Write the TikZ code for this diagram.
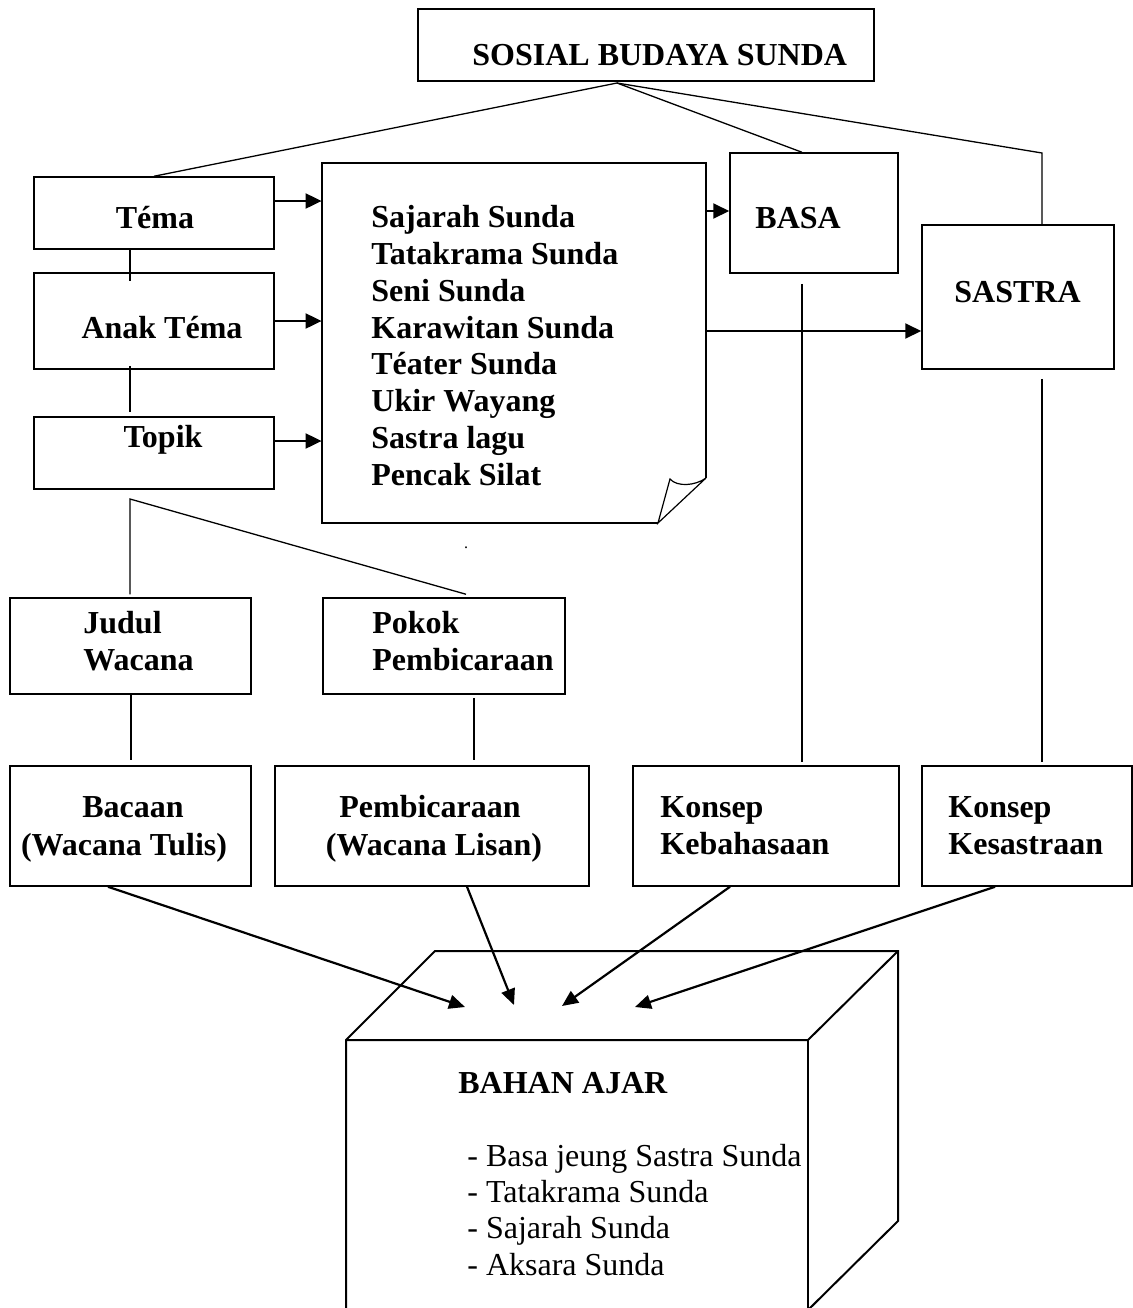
\documentclass[tikz,border=0pt]{standalone}
\usepackage{fontspec}
\setmainfont{Liberation Serif}
\usetikzlibrary{arrows.meta,fit}

\begin{document}
\begin{tikzpicture}[x=0.5pt,y=-0.5pt]
\tikzstyle{every node}=[inner sep=0pt, font=\fontsize{16}{18}\selectfont]
\tikzstyle{box}=[draw, line width=0.75pt]
\tikzstyle{lbl}=[font=\fontsize{16}{18}\selectfont\bfseries, anchor=base west]
\tikzstyle{lblc}=[font=\fontsize{16}{18}\selectfont\bfseries, anchor=base]
\tikzstyle{item}=[anchor=base west]
\tikzstyle{link}=[line width=0.65pt]
\tikzstyle{arr}=[line width=1pt, -{Triangle[length=8pt,width=7.5pt]}]
\tikzstyle{arrb}=[line width=1.1pt, -{Triangle[length=8pt,width=7pt]}]
\useasboundingbox (0,0) rectangle (1133,1308);
\node[box, fit={(418,9) (874,81)}] (sosial) {};
\node[lbl] (sosialtext) at (472,65) {SOSIAL BUDAYA SUNDA};
\node[box, fit={(34,177) (274,249)}] (tema) {};
\node[lblc] (tematext) at (155,228) {Téma};
\node[box, fit={(34,273) (274,369)}] (anak) {};
\node[lblc] (anaktext) at (162,338) {Anak Téma};
\node[box, fit={(34,417) (274,489)}] (topik) {};
\node[lblc] (topiktext) at (163,447) {Topik};
\node[box, fit={(730,153) (898,273)}] (basa) {};
\node[lbl] (basatext) at (755,228) {BASA};
\node[box, fit={(922,225) (1114,369)}] (sastra) {};
\node[lbl] (sastratext) at (954,302) {SASTRA};
\node[fit={(322,163) (706,523)}] (doc) {};
\draw[box] (706,478) -- (706,163) -- (322,163) -- (322,523) -- (658,523);
\draw[line width=0.6pt] (706,478) -- (658,523) -- (670,479) .. controls (677,487) and (695,486) .. (706,478);
\node[lbl] (doc1) at (371,227) {Sajarah Sunda};
\node[lbl] (doc2) at (371,264) {Tatakrama Sunda};
\node[lbl] (doc3) at (371,301) {Seni Sunda};
\node[lbl] (doc4) at (371,338) {Karawitan Sunda};
\node[lbl] (doc5) at (371,374) {Téater Sunda};
\node[lbl] (doc6) at (371,411) {Ukir Wayang};
\node[lbl] (doc7) at (371,448) {Sastra lagu};
\node[lbl] (doc8) at (371,485) {Pencak Silat};
\node (dot) at (466,548) {\fontsize{8}{8}\selectfont .};
\node[box, fit={(10,598) (251,694)}] (judul) {};
\node[lbl] (judul1) at (83,633) {Judul};
\node[lbl] (judul2) at (83,670) {Wacana};
\node[box, fit={(323,598) (565,694)}] (pokok) {};
\node[lbl] (pokok1) at (372,633) {Pokok};
\node[lbl] (pokok2) at (372,670) {Pembicaraan};
\node[box, fit={(10,766) (251,886)}] (bacaan) {};
\node[lblc] (bacaan1) at (133,817) {Bacaan};
\node[lblc] (bacaan2) at (124,855) {(Wacana Tulis)};
\node[box, fit={(275,766) (589,886)}] (pembic) {};
\node[lblc] (pembic1) at (430,817) {Pembicaraan};
\node[lblc] (pembic2) at (434,855) {(Wacana Lisan)};
\node[box, fit={(633,766) (899,886)}] (kbh) {};
\node[lbl] (kbh1) at (660,817) {Konsep};
\node[lbl] (kbh2) at (660,854) {Kebahasaan};
\node[box, fit={(922,766) (1132,886)}] (kss) {};
\node[lbl] (kss1) at (948,817) {Konsep};
\node[lbl] (kss2) at (948,854) {Kesastraan};
\coordinate (hub) at (617,83);
\coordinate (bend) at (1042,153);
\coordinate (fork) at (130,499);
\draw[link] (tema.north) -- (hub) -- (basa.north -| 802,0);
\draw[link] (hub) -- (bend) -- (sastra.north -| bend);
\draw[link] (tema.south -| 130,0) -- ([yshift=-4.5pt]anak.north -| 130,0);
\draw[link] ([yshift=2pt]anak.south -| 130,0) -- ([yshift=2pt]topik.north -| 130,0);
\draw[link] ([yshift=1.5pt]judul.north -| fork) -- (fork) -- ([yshift=1.5pt]pokok.north -| 466,0);
\draw[link] (judul.south -| 131,0) -- ([yshift=2.5pt]bacaan.north -| 131,0);
\draw[link] ([yshift=-1.5pt]pokok.south -| 474,0) -- ([yshift=2.5pt]pembic.north -| 474,0);
\draw[link] ([yshift=-5pt]basa.south -| 802,0) -- ([yshift=1.5pt]kbh.north -| 802,0);
\draw[link] ([yshift=-4.5pt]sastra.south -| bend) -- ([yshift=1.5pt]kss.north -| bend);
\draw[arr] (tema.east |- 0,201) -- (doc.west |- 0,201);
\draw[arr] (anak.east |- 0,321) -- (doc.west |- 0,321);
\draw[arr] (topik.east |- 0,441) -- (doc.west |- 0,441);
\draw[arr] (doc.east |- 0,211) -- (basa.west |- 0,211);
\draw[arr] (doc.east |- 0,331) -- (sastra.west |- 0,331);
\coordinate (in1) at (465,1007);
\coordinate (in2) at (514,1005);
\coordinate (in3) at (562,1006);
\coordinate (in4) at (635,1007);
\draw[arrb] (bacaan.south -| 108,0) -- (in1);
\draw[arrb] (pembic.south -| 467,0) -- (in2);
\draw[arrb] (kbh.south -| 730,0) -- (in3);
\draw[arrb] (kss.south -| 995,0) -- (in4);
\draw[line width=1pt] (346,1312) -- (346,1040) -- (435,951) -- (898,951) -- (898,1221) -- (806,1312);
\draw[line width=1pt] (346,1040) -- (808,1040) -- (898,951);
\draw[line width=1pt] (808,1040) -- (808,1312);
\node[lbl] (bahantitle) at (458,1093) {BAHAN AJAR};
\node[item] (bahan1) at (467,1166) {- Basa jeung Sastra Sunda};
\node[item] (bahan2) at (467,1202) {- Tatakrama Sunda};
\node[item] (bahan3) at (467,1238) {- Sajarah Sunda};
\node[item] (bahan4) at (467,1275) {- Aksara Sunda};
\end{tikzpicture}
\end{document}
